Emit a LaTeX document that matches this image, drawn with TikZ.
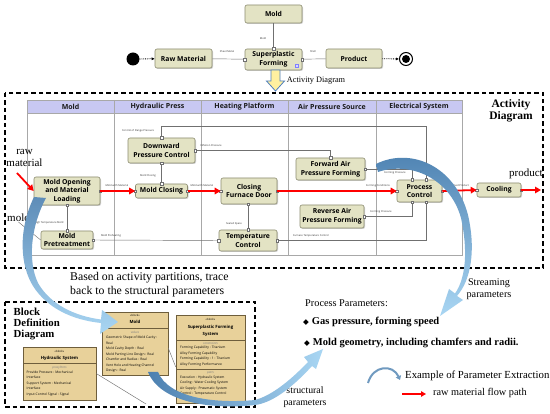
\documentclass[tikz,border=0pt]{standalone}
\usepackage{fontspec}
\setmainfont{Liberation Serif}
\newfontfamily\uisans{Open Sans}
\newfontfamily\symfont{DejaVu Sans}
\usetikzlibrary{arrows.meta,shadows,calc}
\definecolor{actfill}{HTML}{E3E3C4}
\definecolor{actdraw}{HTML}{8C8C70}
\definecolor{lanehead}{HTML}{C8C8F2}
\definecolor{laneline}{HTML}{A8A8A8}
\definecolor{blkfill}{HTML}{E8D19A}
\definecolor{blkdraw}{HTML}{6E5E3C}
\definecolor{conn}{HTML}{707070}
\definecolor{bluedark}{HTML}{4C80B0}
\definecolor{bluelight}{HTML}{A9D6F3}
\definecolor{yelfill}{HTML}{FFF0A0}
\definecolor{yeldraw}{HTML}{4F7FBF}
\tikzset{
 act/.style={draw=actdraw, fill=actfill, rounded corners=2pt, line width=0.6pt, align=center, inner sep=0pt,
   font=\uisans\bfseries\fontsize{6.8}{8.6}\selectfont,
   drop shadow={shadow xshift=1pt, shadow yshift=-1pt, opacity=0.35}},
 lbl/.style={font=\uisans\fontsize{2.6}{3}\selectfont, inner sep=0pt, text=black!80},
 wire/.style={draw=conn, line width=0.45pt},
 redflow/.style={draw=red, line width=1.8pt, -{Triangle[length=6pt,width=6.5pt]}},
 pinbox/.style={draw=conn, fill=white, minimum width=2.4pt, minimum height=2.4pt, inner sep=0pt, line width=0.3pt},
 lanehd/.style={font=\uisans\bfseries\fontsize{7}{8}\selectfont, inner sep=0pt, text=black!90},
 serif/.style={font=\fontsize{10}{12}\selectfont, inner sep=0pt, align=center},
 blk/.style={draw=blkdraw, fill=blkfill, line width=0.5pt, inner sep=0pt,
   drop shadow={shadow xshift=1pt, shadow yshift=-1pt, opacity=0.35}},
 blktxt/.style={font=\uisans\fontsize{3.3}{5.5}\selectfont, inner sep=0pt, align=left, anchor=north west},
 blkhd/.style={font=\uisans\fontsize{2.8}{4}\selectfont, inner sep=0pt},
 blkname/.style={font=\uisans\bfseries\fontsize{4.3}{7}\selectfont, inner sep=0pt, align=center},
 blkcomp/.style={font=\uisans\itshape\fontsize{3}{4}\selectfont, inner sep=0pt, text=black!50},
 dashbox/.style={draw=black, line width=1.2pt, dash pattern=on 4.5pt off 3pt},
}
\begin{document}
\begin{tikzpicture}[x=1pt,y=-1pt]
\useasboundingbox (0,0) rectangle (550,414);
\fill[white] (0,0) rectangle (550,414);

% ---------------- top block diagram
\node[act, minimum width=57pt, minimum height=18pt] (tmold) at (273.5,14) {Mold};
\node[act, minimum width=57pt, minimum height=21pt] (tspf) at (273.5,59.5) {Superplastic\\Forming};
\node[act, minimum width=57pt, minimum height=19pt] (traw) at (183.5,58.5) {Raw Material};
\node[act, minimum width=56pt, minimum height=19pt] (tprod) at (354,58.5) {Product};
\node[circle, fill=black, minimum size=13pt, inner sep=0pt] (tstart) at (133,59) {};
\node[circle, draw=black, line width=1pt, fill=white, minimum size=13pt, inner sep=0pt] (tend) at (406,59) {};
\node[circle, fill=black, minimum size=8pt, inner sep=0pt] (tendin) at (406,59) {};
\draw[densely dotted, line width=0.8pt, -{Latex[length=3pt,width=3pt]}] (tstart) -- (traw);
\draw[densely dotted, line width=0.8pt, -{Latex[length=3pt,width=3pt]}] (tprod) -- (tend);
\draw[wire] (traw) -- (tspf);
\draw[wire] (tspf) -- (tprod);
\draw[wire] (tmold) -- (tspf);
\node[pinbox] (tp1) at (tspf.north) {};
\node[pinbox] (tp2) at (tspf.west) {};
\node[pinbox] (tp3) at (tspf.east) {};
\node[draw=blue!50, fill=blue!15, minimum size=3pt, inner sep=0pt, line width=0.3pt] (ticon) at (297,66) {};
\node[lbl] (lsheet) at (227,52) {Sheet Metal};
\node[lbl] (lshell) at (313,52) {Shell};
\node[lbl] (lmoldt) at (263,39) {Mold};
\draw[fill=yelfill, draw=yeldraw, line width=0.8pt] (271,70) -- (280,70) -- (280,81) -- (284.5,81) -- (275.5,91) -- (266.5,81) -- (271,81) -- cycle;
\node[font=\fontsize{8.3}{9}\selectfont, inner sep=0pt] (tactlbl) at (316,81) {Activity Diagram};

% ---------------- activity diagram frame
\draw[dashbox] (5,93) rectangle (543,268);
\node[font=\bfseries\fontsize{11.5}{12}\selectfont, align=center, inner sep=0pt] (actttl) at (511,111) {Activity\\Diagram};

% swimlanes
\fill[lanehead] (27,100) rectangle (462,113);
\draw[laneline, line width=0.5pt] (27,100) rectangle (462,255);
\draw[laneline, line width=0.5pt] (27,113) -- (462,113);
\foreach \x in {114,201,288,376} \draw[laneline, line width=0.5pt] (\x,100) -- (\x,255);
\node[lanehd] (h1) at (70.5,106.5) {Mold};
\node[lanehd] (h2) at (157.5,106.5) {Hydraulic Press};
\node[lanehd] (h3) at (244.5,106.5) {Heating Platform};
\node[lanehd] (h4) at (332,106.5) {Air Pressure Source};
\node[lanehd] (h5) at (419,106.5) {Electrical System};

% activity nodes
\node[act, minimum width=66pt, minimum height=28pt] (mo) at (67,191) {Mold Opening\\and Material\\Loading};
\node[act, minimum width=52pt, minimum height=18pt] (mp) at (67,240) {Mold\\Pretreatment};
\node[act, minimum width=67pt, minimum height=25pt] (dpc) at (161.5,150.5) {Downward\\Pressure Control};
\node[act, minimum width=52pt, minimum height=14pt] (mc) at (161.5,191) {Mold Closing};
\node[act, minimum width=56pt, minimum height=26pt] (cfd) at (249,191) {Closing\\Furnace Door};
\node[act, minimum width=58pt, minimum height=21pt] (tc) at (248,240.5) {Temperature\\Control};
\node[act, minimum width=69pt, minimum height=22pt] (fap) at (330.5,169) {Forward Air\\Pressure Forming};
\node[act, minimum width=64pt, minimum height=23pt] (rap) at (332,216.5) {Reverse Air\\Pressure Forming};
\node[act, minimum width=45pt, minimum height=22pt] (pc) at (419.5,191) {Process\\Control};
\node[act, minimum width=44pt, minimum height=14pt] (cool) at (499,190) {Cooling};

% thin connectors
\draw[wire] (dpc.north) -- ++(0,-11) -| ([xshift=6.5pt]pc.north);
\draw[wire] (dpc.east) -| (fap.north);
\draw[wire] (dpc.south) -- (mc.north);
\draw[wire] (fap.east) -| ([xshift=-7.5pt]pc.north);
\draw[wire] (rap.east) -| ([xshift=-7.5pt]pc.south);
\draw[wire] (tc.east) -| ([xshift=6.5pt]pc.south);
\draw[wire] (mo.south) -- (mp.north);
\draw[wire] (mp.east) -- (tc.west);
\draw[wire] (cfd.south -| tc.north) -- (tc.north);

% pins
\foreach \p in {dpc.north,dpc.east,dpc.south,mc.north,fap.north,fap.east,rap.east,tc.east,tc.west,tc.north,mo.south,mp.north,mp.east,mo.east,mc.west,mc.east,cfd.west,cfd.east,pc.west,pc.east,cool.west,cool.east}
  \node[pinbox] at (\p) {};
\node[pinbox] at ([xshift=6.5pt]pc.north) {};
\node[pinbox] at ([xshift=-7.5pt]pc.north) {};
\node[pinbox] at ([xshift=-7.5pt]pc.south) {};
\node[pinbox] at ([xshift=6.5pt]pc.south) {};
\node[pinbox] at (cfd.south -| tc.north) {};

% connector labels
\node[lbl] (l1) at (138,131) {Control of Flange Pressure};
\node[lbl] (l2) at (211,146) {Inflation Pressure};
\node[lbl] (l3) at (148,176) {Mold Closing};
\node[lbl] (l4) at (117,186) {Mold with Material};
\node[lbl] (l5) at (202,186) {Mold with Material};
\node[lbl] (l6) at (378,186) {Forming Conditions};
\node[lbl] (l7) at (459,186) {Formed Product};
\node[lbl] (l8) at (395,173) {Forming Pressure};
\node[lbl] (l9) at (381,212) {Forming Pressure};
\node[lbl] (l10) at (311,236) {Furnace Temperature Control};
\node[lbl] (l11) at (49,223) {High Temperature Mold};
\node[lbl] (l12) at (111,236) {Mold Preheating};
\node[lbl] (l13) at (234,224) {Sealed Space};

% red flow
\draw[redflow] (mo.east) -- (mc.west);
\draw[redflow] (mc.east) -- (cfd.west);
\draw[redflow] (cfd.east) -- (pc.west);
\draw[redflow] (pc.east) -- (cool.west);
\coordinate (prodout) at (541,190);
\draw[redflow] (cool.east) -- (prodout);
\coordinate (rawin) at (17,173);
\draw[redflow] (rawin) -- (mo.west);
\node[serif, font=\fontsize{11}{12}\selectfont] (rawlbl) at (24.5,158) {raw\\material};
\node[serif, font=\fontsize{11}{12}\selectfont] (prodlbl) at (526,174) {product};
\node[serif, font=\fontsize{11}{12}\selectfont] (moldlbl) at (18.5,218) {mold};
\draw[draw=black!60, line width=0.4pt] (moldlbl.south) -- (mp.west);

% ---------------- block definition diagram
\node[serif, anchor=west, align=left, font=\fontsize{11.8}{14}\selectfont] (trace) at (70,285) {Based on activity partitions, trace\\back to the structural parameters};
\draw[dashbox] (5,302) rectangle (255,407);
\node[font=\bfseries\fontsize{10.8}{11}\selectfont, align=left, anchor=north west, inner sep=0pt] (bddttl) at (13.5,307.5) {Block\\Definition\\Diagram};

% Hydraulic System
\node[blk, minimum width=73pt, minimum height=53pt] (bhyd) at (59.5,373.5) {};
\node[blkhd] (bhyd1) at (59.5,351) {«block»};
\node[blkname] (bhyd2) at (59.5,358) {Hydraulic System};
\draw[blkdraw, line width=0.4pt] (23,363) -- (96,363);
\node[blkcomp] (bhyd3) at (59.5,367.5) {proxyPorts};
\node[blktxt] (bhyd4) at (26.5,370.5) {Provide Pressure : Mechanical\\Interface\\Support System : Mechanical\\Interface\\Input Control Signal : Signal};

% Mold
\node[blk, minimum width=66pt, minimum height=63pt] (bmold) at (135,343.5) {};
\node[blkhd] (bmold1) at (135,315.5) {«block»};
\node[blkname] (bmold2) at (135,322) {Mold};
\draw[blkdraw, line width=0.4pt] (102,328) -- (168,328);
\node[blkcomp] (bmold3) at (135,332.5) {values};
\node[blktxt] (bmold4) at (106,336) {Geometric Shape of Mold Cavity :\\Real\\Mold Cavity Depth : Real\\Mold Parting Line Design : Real\\Chamfer and Radius : Real\\Vent Hole and Heating Channel\\Design : Real};

% Superplastic Forming System
\node[blk, minimum width=69pt, minimum height=88pt] (bspf) at (210.5,359) {};
\node[blkhd] (bspf1) at (210.5,319) {«block»};
\node[blkname] (bspf2) at (210.5,330.5) {Superplastic Forming\\System};
\draw[blkdraw, line width=0.4pt] (176,340) -- (245,340);
\node[blkcomp] (bspf3) at (210.5,343.5) {constraints};
\node[blktxt] (bspf4) at (180,346) {Forming Capability : Titanium\\Alloy Forming Capability\\Forming Capability : 1 : Titanium\\Alloy Forming Performance};
\draw[blkdraw, line width=0.4pt] (176,369) -- (245,369);
\node[blkcomp] (bspf5) at (210.5,372.5) {parts};
\node[blktxt] (bspf6) at (180,375.5) {Execution : Hydraulic System\\Cooling : Water Cooling System\\Air Supply : Pneumatic System\\Control : Temperature Control};

\draw[wire] ([yshift=-4.5pt]bmold.east) -- ([yshift=-8pt]bspf.west);
\coordinate (hydend) at (146,404);
\draw[wire] (bhyd.east) -- (hydend);

% ---------------- right-bottom texts
\node[serif, font=\fontsize{10.2}{12}\selectfont] (stream) at (489,289) {Streaming\\parameters};
\node[serif, anchor=west, font=\fontsize{10.3}{12}\selectfont] (pp) at (305,303) {Process Parameters:};
\node[serif, anchor=west, font=\fontsize{10.5}{12}\selectfont] (pp1) at (303,322) {{\symfont\fontsize{7.5}{8}\selectfont ◆}\hspace{3pt}\textbf{Gas pressure, forming speed}};
\node[serif, anchor=west, font=\fontsize{10.5}{12}\selectfont] (pp2) at (304,343) {{\symfont\fontsize{7.5}{8}\selectfont ◆}\hspace{3pt}\textbf{Mold geometry, including chamfers and radii.}};
\node[serif, font=\fontsize{9.8}{12}\selectfont] (struct) at (305,397) {structural\\parameters};
\node[serif, anchor=west, font=\fontsize{10.8}{12}\selectfont] (leg1) at (405,376) {Example of Parameter Extraction};
\node[serif, anchor=west, font=\fontsize{10.3}{12}\selectfont] (leg2) at (433,393) {raw material flow path};
\coordinate (legr1) at (402,394);
\coordinate (legr2) at (426,394);
\draw[draw=red, line width=1.6pt, -{Triangle[length=5pt,width=5.5pt]}] (legr1) -- (legr2);
\coordinate (lega1) at (368,383);
\coordinate (lega2) at (400,380);
\draw[line width=2pt, bluedark!80, -{Triangle[length=4pt,width=5.5pt]}] (lega1) .. controls (373,365) and (393,364) .. (lega2);

% ---------------- big blue arrows
\shade[top color=bluedark!90, bottom color=bluelight] (34,197) .. controls (18,230) and (20,265) .. (33,286) .. controls (47,308) and (72,320) .. (101,323) -- (100,334) -- (118,322) -- (102,310) -- (101,319.5) .. controls (74,316) and (50,304) .. (38,283) .. controls (28,262) and (30,228) .. (46,198) -- cycle;
\shade[top color=bluedark, bottom color=bluelight] (376,164) .. controls (410,147) and (455,165) .. (468,215) .. controls (476,250) and (471,280) .. (457,296) -- (463,300) -- (440,316) -- (449,289) -- (455,293.5) .. controls (466,278) and (468,250) .. (461,218) .. controls (450,178) and (410,161) .. (378,172) -- cycle;
\shade[left color=bluedark, right color=bluelight] (148,372) .. controls (160,402) and (210,410) .. (255,405) .. controls (271,403) and (290,390) .. (312,366) -- (316,369) -- (323,349) -- (304,357) -- (308,362) .. controls (288,383) and (270,396) .. (255,400) .. controls (212,404) and (168,397) .. (158,372) -- cycle;
\end{tikzpicture}
\end{document}
